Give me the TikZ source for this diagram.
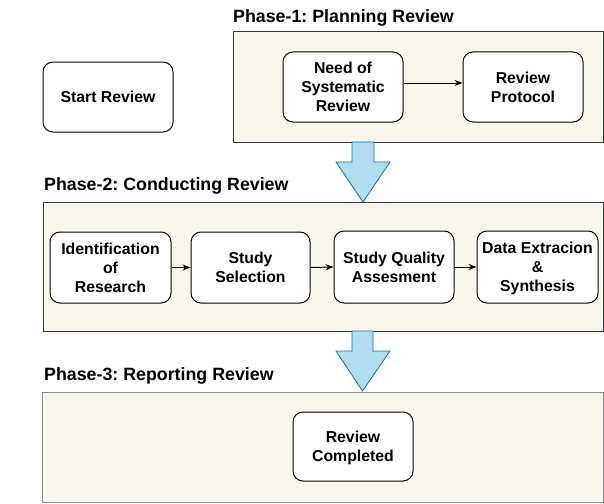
\documentclass[tikz,border=0pt]{standalone}
\usepackage{fontspec}
\setmainfont{Liberation Sans}
\usetikzlibrary{arrows.meta}
\definecolor{phasefill}{HTML}{F9F7ED}
\definecolor{phasedraw}{HTML}{36393D}
\definecolor{phasedrawlight}{HTML}{8C8C8C}
\definecolor{blkfill}{HTML}{B1DDF0}
\definecolor{blkdraw}{HTML}{10739E}
\tikzset{
  stepbox/.style={draw=black, fill=white, rounded corners=10pt, line width=1pt,
    minimum width=120pt, minimum height=70pt, align=center, inner sep=2pt,
    text depth=-3pt,
    font=\fontsize{15.8}{19}\selectfont\bfseries\frenchspacing},
  phasebox/.style={draw=phasedraw, fill=phasefill, line width=1pt},
  phaselabel/.style={anchor=west, inner sep=0pt, font=\fontsize{17.8}{21}\selectfont\bfseries\frenchspacing},
  flow/.style={-{Stealth[length=8pt,width=6pt]}, line width=1pt},
  blockarrow/.style={draw=blkdraw, fill=blkfill, line width=0.8pt, line join=miter}
}
\begin{document}
\begin{tikzpicture}[x=1pt,y=-1pt]
\useasboundingbox (0,0) rectangle (604,503);
% phase boxes
\draw[phasebox] (233,32) rectangle (603,142);
\draw[phasebox] (43,202) rectangle (603,331);
\draw[phasebox, draw=phasedrawlight] (42,392) rectangle (603,502);
% labels
\node[phaselabel] (l1) at (233,18) {Phase-1: Planning Review};
\node[phaselabel] (l2) at (44,186) {Phase-2: Conducting Review};
\node[phaselabel] (l3) at (44,376) {Phase-3: Reporting Review};
% block arrows
\draw[blockarrow] (352,142) -- (374,142) -- (374,162) -- (390,162) -- (363,202) -- (336,162) -- (352,162) -- cycle;
\draw[blockarrow] (352,331) -- (373,331) -- (373,351) -- (390,351) -- (362.5,391) -- (336,351) -- (352,351) -- cycle;
% nodes
\node[stepbox, minimum width=130pt] (start) at (108,97) {Start Review};
\node[stepbox] (need) at (343,87) {Need of\\Systematic\\Review};
\node[stepbox] (proto) at (523,87) {Review\\Protocol};
\node[stepbox, minimum width=121pt, minimum height=71pt] (ident) at (110.5,267.5) {Identification\\of\\Research};
\node[stepbox, minimum width=119pt, minimum height=71pt] (sel) at (250.5,267.5) {Study\\Selection};
\node[stepbox, minimum height=72pt] (qual) at (394,267) {Study Quality\\Assesment};
\node[stepbox, minimum width=121pt, minimum height=72pt] (data) at (537.5,267) {Data Extracion\\\&\\Synthesis};
\node[stepbox, minimum height=69pt] (done) at (353,446.5) {Review\\Completed};
% connectors
\draw[flow] ([yshift=4pt]need.east) -- ([yshift=4pt]proto.west);
\draw[flow] (ident.east) -- (sel.west);
\draw[flow] (sel.east) -- (qual.west);
\draw[flow] (qual.east) -- (data.west);
\end{tikzpicture}
\end{document}
